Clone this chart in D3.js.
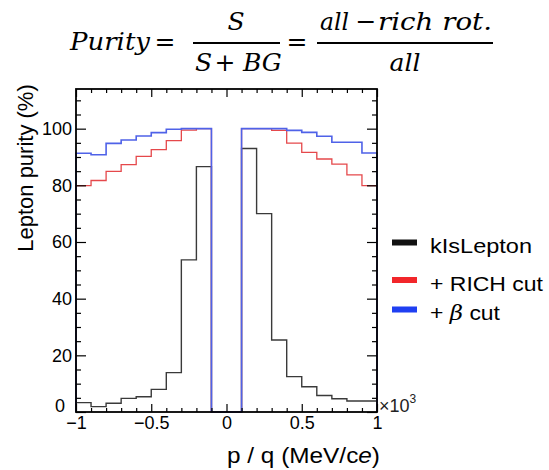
<!DOCTYPE html>
<html>
<head>
<meta charset="utf-8">
<script src="https://cdn.jsdelivr.net/npm/d3@7"></script>
<style>
  body { margin: 0; background: #fff; }
  svg { display: block; }
  .axis text { font-family: "Liberation Sans", Arial, sans-serif; font-size: 18px; fill: #000; }
  .axis line { stroke: #000; stroke-width: 1.2; }
</style>
</head>
<body>
<div id="chart-area"></div>
<script>
// bins of p/q (x10^3), low edges, width 0.1
const binLow = [-1, -0.9, -0.8, -0.7, -0.6, -0.5, -0.4, -0.3, -0.2, -0.1,
                0, 0.1, 0.2, 0.3, 0.4, 0.5, 0.6, 0.7, 0.8, 0.9];
const binWidth = 0.1;

// purity (%) per bin
const kIsLepton = [3.3, 1.9, 3.1, 4.8, 5.4, 8.0, 13.9, 53.7, 86.6, 0,
                   0, 93.0, 70.0, 25.4, 12.5, 8.9, 5.8, 4.7, 3.9, 3.9];
const richCut = [79.9, 81.7, 84.9, 87.3, 90.2, 92.6, 95.8, 99.5, 100, 0,
                 0, 100, 100, 99.4, 94.9, 91.6, 89.3, 87.5, 83.7, 79.9];
const betaCut = [91.3, 90.8, 94.8, 96.0, 97.4, 98.6, 99.8, 100, 100, 0,
                 0, 100, 100, 100, 99.4, 98.7, 97.3, 95.2, 95.2, 91.4];

const seriesNames = ["kIsLepton", "+ RICH cut", "+ \u03b2 cut"];
const lineColors = ["#3a3a3a", "#e5484b", "#4f62e8"];
const lineWidths = [1.4, 1.3, 1.6];
const swatchColors = ["#111111", "#f2262a", "#1f3ff2"];

const xMajor = [-1, -0.5, 0, 0.5, 1];
const xMinor = [-0.9, -0.8, -0.7, -0.6, -0.4, -0.3, -0.2, -0.1,
                0.1, 0.2, 0.3, 0.4, 0.6, 0.7, 0.8, 0.9];
const yMajor = [0, 20, 40, 60, 80, 100];
const yMinor = [5, 10, 15, 25, 30, 35, 45, 50, 55, 65, 70, 75, 85, 90, 95, 105, 110];

const W = 549, H = 470;
const frame = { left: 76, right: 377, top: 89, bottom: 412 };

const svg = d3.select("#chart-area").append("svg")
    .attr("width", W).attr("height", H);

svg.append("rect").attr("width", W).attr("height", H).attr("fill", "#fff");

const x = d3.scaleLinear().domain([-1, 1]).range([frame.left, frame.right]);
const y = d3.scaleLinear().domain([0, 114]).range([frame.bottom, frame.top]);

// formula on top
const mathFont = "'DejaVu Serif', serif";
const formula = svg.append("g")
    .attr("font-family", mathFont)
    .attr("font-size", 25)
    .attr("font-style", "italic")
    .attr("fill", "#000");

formula.append("text").attr("x", 70).attr("y", 50)
    .attr("textLength", 80).attr("lengthAdjust", "spacingAndGlyphs").text("Purity");
formula.append("text").attr("x", 165).attr("y", 50).attr("text-anchor", "middle")
    .attr("font-style", "normal").text("=");
formula.append("line").attr("x1", 193).attr("x2", 280).attr("y1", 43).attr("y2", 43)
    .attr("stroke", "#000").attr("stroke-width", 2);
formula.append("text").attr("x", 236).attr("y", 30).attr("text-anchor", "middle").text("S");
formula.append("text").attr("x", 195).attr("y", 71).text("S");
formula.append("text").attr("x", 225).attr("y", 71).attr("text-anchor", "middle")
    .attr("font-style", "normal").text("+");
formula.append("text").attr("x", 243).attr("y", 71).text("BG");
formula.append("text").attr("x", 297).attr("y", 50).attr("text-anchor", "middle")
    .attr("font-style", "normal").text("=");
formula.append("line").attr("x1", 317).attr("x2", 493).attr("y1", 43).attr("y2", 43)
    .attr("stroke", "#000").attr("stroke-width", 2);
formula.append("text").attr("x", 320).attr("y", 30)
    .attr("textLength", 29).attr("lengthAdjust", "spacingAndGlyphs").text("all");
formula.append("text").attr("x", 366).attr("y", 30).attr("text-anchor", "middle")
    .attr("font-style", "normal").text("\u2212");
formula.append("text").attr("x", 378).attr("y", 30)
    .attr("textLength", 114).attr("lengthAdjust", "spacingAndGlyphs").text("rich rot.");
formula.append("text").attr("x", 405).attr("y", 71).attr("text-anchor", "middle").text("all");

// histogram step lines
const stepPoints = (values) => {
    const pts = [[binLow[0], 0]];
    values.forEach((v, i) => {
        pts.push([binLow[i], v]);
        pts.push([binLow[i] + binWidth, v]);
    });
    pts.push([binLow[binLow.length - 1] + binWidth, 0]);
    return pts;
};

const line = d3.line().x((d) => x(d[0])).y((d) => y(d[1]));

[kIsLepton, richCut, betaCut].forEach((vals, i) => {
    svg.append("path")
        .attr("d", line(stepPoints(vals)))
        .attr("fill", "none")
        .attr("stroke", lineColors[i])
        .attr("stroke-width", lineWidths[i]);
});

// axes (ROOT style, ticks inside the frame)
const fmt = d3.format("~g");
const addAxis = (axis, tx, ty) => {
    const g = svg.append("g").attr("class", "axis")
        .attr("transform", `translate(${tx}, ${ty})`)
        .call(axis);
    g.select(".domain").remove();
    return g;
};

addAxis(d3.axisBottom(x).tickValues(xMajor).tickSizeInner(-8).tickSizeOuter(0)
    .tickPadding(4).tickFormat(fmt), 0, frame.bottom);
addAxis(d3.axisBottom(x).tickValues(xMinor).tickSizeInner(-4).tickSizeOuter(0)
    .tickFormat(""), 0, frame.bottom);
addAxis(d3.axisTop(x).tickValues(xMajor).tickSizeInner(-8).tickSizeOuter(0)
    .tickFormat(""), 0, frame.top);
addAxis(d3.axisTop(x).tickValues(xMinor).tickSizeInner(-4).tickSizeOuter(0)
    .tickFormat(""), 0, frame.top);

const yAxisG = addAxis(d3.axisLeft(y).tickValues(yMajor).tickSizeInner(-10).tickSizeOuter(0)
    .tickPadding(4).tickFormat(fmt), frame.left, 0);
// ROOT pushes the "0" label up and left, clear of the x labels
yAxisG.selectAll(".tick text").filter((d) => d === 0)
    .attr("x", -11).attr("dy", "-0.05em");
addAxis(d3.axisLeft(y).tickValues(yMinor).tickSizeInner(-5).tickSizeOuter(0)
    .tickFormat(""), frame.left, 0);
addAxis(d3.axisRight(y).tickValues(yMajor).tickSizeInner(-10).tickSizeOuter(0)
    .tickFormat(""), frame.right, 0);
addAxis(d3.axisRight(y).tickValues(yMinor).tickSizeInner(-5).tickSizeOuter(0)
    .tickFormat(""), frame.right, 0);

// frame
svg.append("rect")
    .attr("x", frame.left).attr("y", frame.top)
    .attr("width", frame.right - frame.left)
    .attr("height", frame.bottom - frame.top)
    .attr("fill", "none")
    .attr("stroke", "#000")
    .attr("stroke-width", 1.8);

// x10^3 exponent
const expo = svg.append("text")
    .attr("x", 379).attr("y", 412)
    .attr("font-family", "'Liberation Sans', Arial, sans-serif")
    .attr("font-size", 18).attr("fill", "#222")
    .text("\u00d710");
expo.append("tspan").attr("font-size", 12).attr("dy", -9).text("3");

// axis titles
const sansFont = "'Liberation Sans', Arial, sans-serif";
const xTitle = svg.append("text")
    .attr("x", 227).attr("y", 463)
    .attr("textLength", 153).attr("lengthAdjust", "spacingAndGlyphs")
    .attr("font-family", sansFont).attr("font-size", 22)
    .text("p / q (MeV/c");
xTitle.append("tspan").attr("font-style", "italic").text("e");
xTitle.append("tspan").text(")");

svg.append("text")
    .attr("transform", "translate(33, 168) rotate(-90)")
    .attr("text-anchor", "middle")
    .attr("font-family", sansFont).attr("font-size", 22)
    .text("Lepton purity (%)");

// legend
const legendY = [242.5, 280, 309.5];
const legendLen = [102, 113, 70];
seriesNames.forEach((name, i) => {
    const row = svg.append("g").attr("transform", `translate(392, ${legendY[i]})`);
    row.append("rect")
        .attr("x", 0).attr("y", -3).attr("width", 25).attr("height", 6)
        .attr("fill", swatchColors[i]);
    const t = row.append("text")
        .attr("x", 38).attr("y", 10.5)
        .attr("textLength", legendLen[i]).attr("lengthAdjust", "spacingAndGlyphs")
        .attr("font-family", sansFont).attr("font-size", 21);
    if (i === 2) {
        t.append("tspan").text("+ ");
        t.append("tspan").attr("font-family", mathFont).attr("font-style", "italic").text("\u03b2");
        t.append("tspan").text(" cut");
    } else {
        t.text(name);
    }
});
</script>
</body>
</html>
